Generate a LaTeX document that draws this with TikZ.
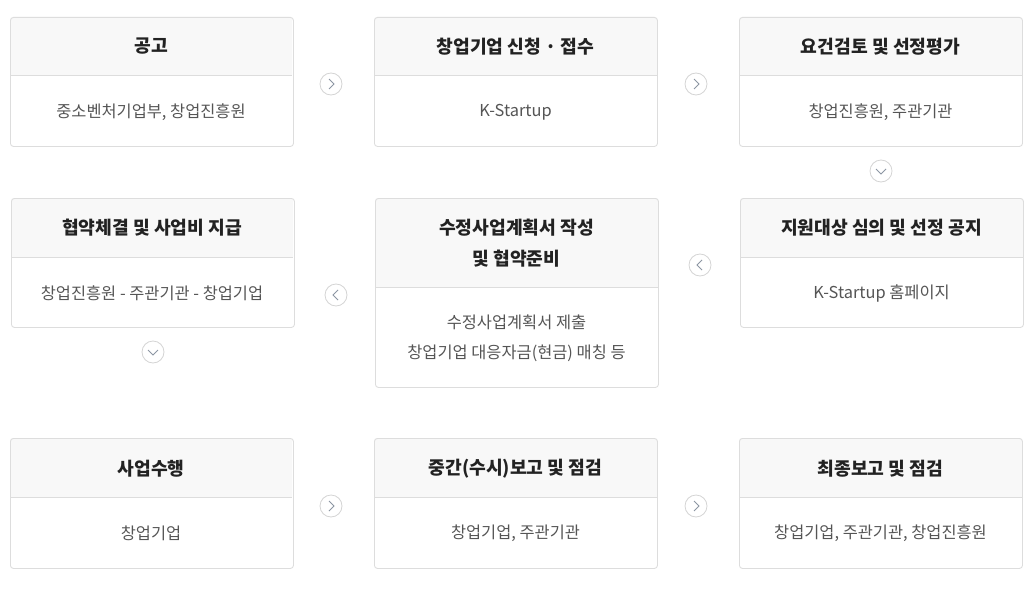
\documentclass[tikz,border=0pt]{standalone}
\usepackage{fontspec}
\setmainfont{Noto Sans CJK KR}
\usetikzlibrary{shapes}

\definecolor{linegray}{HTML}{DDDDDD}
\definecolor{headgray}{HTML}{F8F8F8}
\definecolor{ringgray}{HTML}{D4D4D4}
\definecolor{chevgray}{HTML}{8C96A3}
\definecolor{titletext}{HTML}{222222}
\definecolor{bodytext}{HTML}{555555}

\tikzset{
  card/.style={rectangle, draw=linegray, line width=0.9pt, rounded corners=3pt, minimum width=283pt, anchor=north west, inner sep=0pt},
  head/.style={headgray},
  split/.style={draw=linegray, line width=0.9pt},
  title/.style={font=\fontsize{18.2}{31}\selectfont\bfseries, text=titletext, align=center},
  body/.style={font=\fontsize{16.4}{29.5}\selectfont, text=bodytext, align=center},
  ring/.style={circle, draw=ringgray, fill=white, line width=0.8pt, minimum size=22pt, inner sep=0pt},
  chev/.style={draw=chevgray, line width=0.9pt}
}

\begin{document}
\begin{tikzpicture}[x=1pt,y=-1pt]

    \useasboundingbox (0,0) rectangle (1035,607);

    % first row
    \fill [head] (10,75) {[rounded corners=3pt] -- (10,17) -- (292,17)} -- (292,75) -- cycle;
    \node (k1) [card, minimum height=129pt] at (10,17) {};
    \draw [split] (10,75) -- (292,75);
    \node (t1) [title] at (151,46.5) {공고};
    \node (s1) [body] at (151,112) {중소벤처기업부, 창업진흥원};

    \fill [head] (374,75) {[rounded corners=3pt] -- (374,17) -- (657,17)} -- (657,75) -- cycle;
    \node (k2) [card, minimum height=129pt] at (374,17) {};
    \draw [split] (374,75) -- (657,75);
    \node (t2) [title] at (515.5,46.5) {창업기업 신청 · 접수};
    \node (s2) [body] at (515.5,112) {K-Startup};

    \fill [head] (739,75) {[rounded corners=3pt] -- (739,17) -- (1022,17)} -- (1022,75) -- cycle;
    \node (k3) [card, minimum height=129pt] at (739,17) {};
    \draw [split] (739,75) -- (1022,75);
    \node (t3) [title] at (880.5,46.5) {요건검토 및 선정평가};
    \node (s3) [body] at (880.5,112) {창업진흥원, 주관기관};

    % second row
    \fill [head] (11,257) {[rounded corners=3pt] -- (11,198) -- (293,198)} -- (293,257) -- cycle;
    \node (k4) [card, minimum height=129pt] at (11,198) {};
    \draw [split] (11,257) -- (293,257);
    \node (t4) [title] at (152,227.5) {협약체결 및 사업비 지급};
    \node (s4) [body] at (152,293) {창업진흥원 - 주관기관 - 창업기업};

    \fill [head] (375,287) {[rounded corners=3pt] -- (375,198) -- (658,198)} -- (658,287) -- cycle;
    \node (k5) [card, minimum height=189pt] at (375,198) {};
    \draw [split] (375,287) -- (658,287);
    \node (t5) [title] at (516.5,243) {수정사업계획서 작성\\및 협약준비};
    \node (s5) [body] at (516.5,338.5) {수정사업계획서 제출\\창업기업 대응자금(현금) 매칭 등};

    \fill [head] (740,257) {[rounded corners=3pt] -- (740,198) -- (1023,198)} -- (1023,257) -- cycle;
    \node (k6) [card, minimum height=129pt] at (740,198) {};
    \draw [split] (740,257) -- (1023,257);
    \node (t6) [title] at (881.5,227.5) {지원대상 심의 및 선정 공지};
    \node (s6) [body] at (881.5,293) {K-Startup 홈페이지};

    % third row
    \fill [head] (10,497) {[rounded corners=3pt] -- (10,438) -- (292,438)} -- (292,497) -- cycle;
    \node (k7) [card, minimum height=130pt] at (10,438) {};
    \draw [split] (10,497) -- (292,497);
    \node (t7) [title] at (151,468.5) {사업수행};
    \node (s7) [body] at (151,533) {창업기업};

    \fill [head] (374,497) {[rounded corners=3pt] -- (374,438) -- (657,438)} -- (657,497) -- cycle;
    \node (k8) [card, minimum height=130pt] at (374,438) {};
    \draw [split] (374,497) -- (657,497);
    \node (t8) [title] at (515.5,468.5) {중간(수시)보고 및 점검};
    \node (s8) [body] at (515.5,533) {창업기업, 주관기관};

    \fill [head] (739,497) {[rounded corners=3pt] -- (739,438) -- (1022,438)} -- (1022,497) -- cycle;
    \node (k9) [card, minimum height=130pt] at (739,438) {};
    \draw [split] (739,497) -- (1022,497);
    \node (t9) [title] at (880.5,468.5) {최종보고 및 점검};
    \node (s9) [body] at (880.5,533) {창업기업, 주관기관, 창업진흥원};

    % step markers
    \node (c1) [ring] at (331,84) {};
    \draw [chev] (c1.center) ++(-2,-5) -- ++(5,5) -- ++(-5,5);
    \node (c2) [ring] at (696,84) {};
    \draw [chev] (c2.center) ++(-2,-5) -- ++(5,5) -- ++(-5,5);
    \node (c3) [ring] at (881,171) {};
    \draw [chev] (c3.center) ++(-5,-2) -- ++(5,5) -- ++(5,-5);
    \node (c4) [ring] at (700,265) {};
    \draw [chev] (c4.center) ++(2,-5) -- ++(-5,5) -- ++(5,5);
    \node (c5) [ring] at (336,295) {};
    \draw [chev] (c5.center) ++(2,-5) -- ++(-5,5) -- ++(5,5);
    \node (c6) [ring] at (153,352) {};
    \draw [chev] (c6.center) ++(-5,-2) -- ++(5,5) -- ++(5,-5);
    \node (c7) [ring] at (331,506) {};
    \draw [chev] (c7.center) ++(-2,-5) -- ++(5,5) -- ++(-5,5);
    \node (c8) [ring] at (696,506) {};
    \draw [chev] (c8.center) ++(-2,-5) -- ++(5,5) -- ++(-5,5);

\end{tikzpicture}
\end{document}
